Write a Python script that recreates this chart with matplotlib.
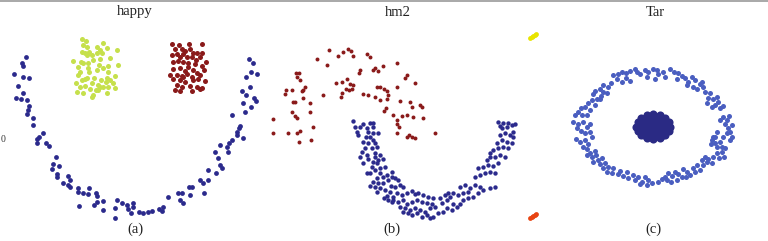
import matplotlib
matplotlib.use("Agg")
import matplotlib.pyplot as plt
from matplotlib.lines import Line2D

# point positions; each panel uses its own units
# (3 units per screen pixel inside the panel window)

# --- (a) happy ---
happy_smile = [
    (78, 170), (65, 190), (70, 198), (42, 222), (68, 232), (88, 235), (55, 258), (68, 278),
    (48, 295), (62, 298), (80, 300), (88, 318), (85, 330), (80, 342), (100, 355), (98, 375),
    (128, 400), (118, 410), (110, 418), (112, 428), (138, 430), (148, 438), (168, 472),
    (160, 492), (178, 497), (155, 508), (170, 522), (170, 530), (205, 527), (210, 540),
    (188, 550), (205, 555), (210, 562), (235, 565), (235, 575), (250, 578), (268, 565),
    (265, 582), (288, 578), (292, 588), (308, 602), (292, 605), (282, 615), (238, 618),
    (310, 630), (345, 625), (352, 600), (365, 608), (380, 615), (385, 628), (400, 610),
    (400, 620), (392, 638), (418, 636), (430, 638), (445, 636), (455, 632), (478, 628),
    (488, 622), (485, 632), (505, 590), (535, 578), (540, 600), (548, 608), (568, 562),
    (575, 562), (570, 585), (545, 578), (600, 540), (608, 548), (625, 540), (612, 580),
    (625, 510), (648, 518), (665, 505), (660, 495), (655, 475), (645, 455), (660, 435),
    (680, 442), (685, 455), (688, 428), (695, 420), (712, 405), (718, 385), (720, 378),
    (730, 415), (712, 395), (695, 345), (735, 335), (730, 310), (752, 320), (762, 295),
    (768, 302), (738, 285), (725, 272), (750, 260), (738, 230), (752, 215), (770, 222),
    (760, 190), (748, 178), (345, 655),
]
happy_green = [
    (245, 118), (258, 122), (250, 135), (262, 140), (245, 155), (255, 160), (268, 155),
    (292, 140), (310, 128), (320, 145), (300, 150), (290, 160), (305, 160), (350, 150),
    (262, 165), (275, 165), (220, 182), (242, 185), (250, 190), (280, 180), (300, 178),
    (330, 175), (355, 195), (298, 195), (310, 205), (240, 215), (235, 225), (268, 215),
    (290, 210), (325, 215), (345, 228), (320, 235), (262, 235), (245, 240), (255, 238),
    (282, 235), (302, 240), (318, 245), (330, 240), (228, 248), (240, 262), (255, 258),
    (275, 250), (295, 255), (310, 262), (325, 262), (345, 265), (232, 275), (250, 278),
    (270, 268), (288, 270), (300, 262), (322, 280), (278, 285), (275, 292), (295, 270),
    (338, 250), (263, 190), (235, 200), (325, 198), (265, 205),
]
happy_red = [
    (515, 132), (538, 135), (568, 132), (605, 132), (525, 148), (545, 148), (555, 152),
    (570, 148), (580, 158), (590, 160), (605, 160), (515, 165), (530, 162), (548, 162),
    (560, 170), (575, 170), (600, 170), (618, 185), (520, 185), (535, 182), (550, 185),
    (565, 188), (585, 192), (605, 198), (612, 210), (520, 208), (540, 205), (555, 212),
    (580, 210), (590, 218), (510, 225), (530, 225), (545, 228), (560, 222), (575, 230),
    (600, 225), (520, 238), (540, 240), (555, 245), (580, 240), (595, 238), (615, 242),
    (530, 255), (545, 260), (570, 258), (590, 262), (605, 265), (525, 270), (540, 272),
    (575, 272), (600, 268), (550, 232), (565, 200), (588, 180), (540, 170),
]

# --- (b) hm2 ---
hm2_red = [
    (208, 150), (248, 155), (265, 148), (272, 152), (280, 168), (235, 168), (170, 178),
    (200, 195), (322, 162), (330, 172), (345, 205), (340, 210), (355, 212), (370, 198),
    (410, 188), (300, 210), (298, 218), (108, 218), (118, 218), (110, 232), (120, 240),
    (260, 238), (245, 245), (228, 250), (270, 252), (280, 255), (268, 270), (258, 268),
    (275, 268), (440, 225), (435, 235), (465, 248), (78, 270), (95, 270), (125, 272),
    (135, 262), (130, 270), (190, 285), (245, 278), (242, 290), (310, 282), (325, 285),
    (350, 262), (360, 262), (372, 268), (380, 272), (410, 262), (345, 292), (360, 300),
    (382, 298), (105, 305), (100, 305), (130, 295), (150, 310), (420, 302), (450, 305),
    (480, 315), (485, 320), (455, 320), (378, 325), (372, 332), (95, 335), (105, 348),
    (112, 355), (150, 335), (400, 345), (425, 348), (440, 345), (458, 352), (490, 355),
    (410, 360), (412, 372), (418, 382), (38, 358), (160, 380), (120, 392), (112, 398),
    (85, 398), (38, 398), (412, 400), (448, 405), (455, 410), (465, 415), (440, 412),
    (525, 398), (118, 425), (152, 420), (75, 282), (385, 285),
]
hm2_blue = [
    (280, 362), (285, 380), (290, 395), (295, 405), (310, 372), (320, 385), (325, 395),
    (330, 370), (340, 368), (338, 380), (318, 410), (330, 412), (340, 420), (310, 425),
    (325, 430), (345, 430), (315, 445), (335, 445), (300, 470), (320, 465), (345, 460),
    (360, 465), (325, 478), (340, 485), (355, 480), (368, 478), (310, 490), (335, 500),
    (345, 510), (360, 505), (375, 500), (360, 520), (380, 525), (395, 530), (405, 535),
    (415, 540), (385, 540), (340, 545), (355, 548), (370, 550), (345, 560), (360, 565),
    (375, 570), (392, 558), (405, 560), (420, 555), (430, 560), (390, 575), (410, 580),
    (380, 588), (400, 590), (425, 585), (440, 578), (455, 572), (465, 582), (475, 580),
    (490, 585), (505, 590), (520, 595), (395, 605), (415, 605), (430, 600), (440, 612),
    (455, 605), (470, 600), (485, 605), (500, 610), (515, 612), (420, 620), (435, 625),
    (450, 630), (465, 625), (480, 630), (495, 635), (510, 625), (525, 620), (545, 610),
    (560, 600), (570, 590), (540, 595), (555, 585), (565, 578), (580, 580), (595, 585),
    (610, 580), (625, 575), (600, 560), (615, 555), (630, 565), (645, 555), (660, 560),
    (670, 570), (690, 565), (705, 560), (645, 530), (660, 525), (675, 520), (690, 515),
    (705, 520), (655, 505), (670, 500), (685, 495), (700, 498), (715, 490), (680, 480),
    (690, 470), (705, 472), (720, 465), (735, 470), (700, 450), (715, 445), (730, 440),
    (745, 445), (690, 460), (710, 430), (725, 420), (740, 425), (755, 430), (720, 405),
    (735, 400), (750, 405), (760, 410), (725, 385), (740, 380), (755, 375), (765, 372),
    (715, 365), (730, 370), (745, 368), (720, 378), (760, 395), (535, 640), (550, 635),
    (560, 625), (575, 630), (590, 620), (600, 612), (610, 600), (625, 595), (640, 590),
    (655, 580), (510, 655), (520, 650), (580, 612), (470, 640), (455, 645), (445, 640),
    (430, 635), (500, 645), (485, 650), (400, 600), (385, 600), (372, 595), (350, 575),
    (330, 558), (350, 535), (370, 530), (395, 515), (320, 520), (330, 520), (350, 490),
    (305, 455), (350, 440), (340, 400), (300, 380), (355, 400), (345, 470),
]

# --- (c) Tar ---
tar_yellow = [(30, 115), (35, 112), (40, 108), (45, 105), (48, 103)]
tar_orange = [(30, 655), (35, 652), (40, 648), (45, 645), (48, 643)]
tar_ring = [
    (280, 225), (295, 222), (305, 215), (318, 220), (330, 212), (345, 208), (352, 215),
    (360, 222), (375, 210), (385, 215), (398, 208), (410, 210), (415, 222), (430, 215),
    (435, 232), (450, 208), (462, 215), (475, 220), (485, 228), (495, 235), (505, 245),
    (515, 232), (525, 240), (540, 252), (550, 262), (545, 245), (318, 235), (305, 245),
    (290, 238), (272, 248), (265, 262), (250, 255), (240, 268), (225, 272), (218, 282),
    (330, 242), (380, 232), (405, 238), (470, 238), (500, 255), (520, 262), (532, 268),
    (555, 275), (570, 280), (565, 295), (580, 298), (590, 290), (595, 305), (585, 315),
    (600, 325), (610, 318), (575, 320), (560, 310), (250, 275), (242, 288), (230, 298),
    (215, 300), (205, 310), (195, 322), (182, 325), (175, 335), (165, 345), (185, 345),
    (200, 345), (210, 330), (225, 315), (240, 298), (260, 280), (160, 365), (175, 372),
    (190, 365), (200, 380), (210, 372), (170, 385), (182, 392), (195, 400), (210, 395),
    (168, 418), (180, 425), (195, 420), (205, 432), (215, 412), (190, 440), (200, 448),
    (210, 460), (225, 452), (215, 470), (228, 465), (200, 465), (235, 480), (245, 475),
    (220, 485), (240, 492), (255, 490), (250, 505), (265, 500), (260, 515), (275, 518),
    (280, 505), (295, 522), (300, 512), (310, 528), (320, 515), (325, 535), (340, 525),
    (345, 540), (355, 532), (365, 545), (375, 530), (385, 540), (395, 548), (380, 555),
    (360, 552), (415, 545), (425, 538), (435, 530), (445, 520), (455, 528), (465, 515),
    (475, 522), (485, 530), (490, 508), (500, 515), (510, 525), (520, 505), (530, 495),
    (540, 510), (550, 495), (560, 485), (565, 478), (575, 490), (580, 470), (590, 460),
    (598, 475), (605, 455), (615, 445), (590, 440), (600, 425), (585, 428), (575, 420),
    (610, 410), (620, 400), (630, 395), (635, 410), (625, 385), (635, 375), (620, 360),
    (610, 350), (628, 348), (600, 360), (615, 372), (590, 395), (580, 412), (572, 432),
    (585, 410), (605, 440), (452, 545), (440, 540), (470, 540), (498, 530), (525, 515),
    (545, 480), (555, 470), (612, 470), (630, 420),
]
# the dense blob in the middle of the ring (outline + filling)
tar_core = [
    (451, 380), (447, 394), (436, 406), (420, 414), (400, 417), (380, 414), (364, 406),
    (353, 394), (349, 380), (353, 366), (364, 354), (380, 346), (400, 343), (420, 346),
    (436, 354), (447, 366), (430, 380), (421, 394), (400, 400), (379, 394), (370, 380),
    (379, 366), (400, 360), (421, 366), (400, 380), (410, 372), (390, 388),
    (385, 372), (415, 388), (385, 388), (415, 372), (360, 380), (440, 380), (400, 352),
    (400, 408), (372, 356), (428, 356), (372, 404), (428, 404), (390, 352), (410, 352),
    (390, 408), (410, 408), (358, 370), (442, 370), (358, 390), (442, 390),
]

titles = ["happy", "hm2", "Tar"]
captions = ["(a)", "(b)", "(c)"]

W, H = 768, 241
fig = plt.figure(figsize=(W / 100, H / 100), dpi=100)
fig.patch.set_facecolor("white")


def panel(x0, width):
    ax = fig.add_axes([x0 / W, 0, width / W, 1])
    ax.set_xlim(0, width * 3)
    ax.set_ylim(H * 3, 0)
    ax.axis("off")
    ax.patch.set_alpha(0)
    return ax


def dots(ax, pts, color, s):
    xs = [p[0] for p in pts]
    ys = [p[1] for p in pts]
    ax.scatter(xs, ys, s=s, c=color, linewidths=0)


ax_a = panel(0, 270)
dots(ax_a, happy_smile, "#2b2a8c", 12)
dots(ax_a, happy_green, "#c6e04c", 13)
dots(ax_a, happy_red, "#8a1a1a", 13)

ax_b = panel(260, 270)
dots(ax_b, hm2_red, "#8a1a1a", 8)
dots(ax_b, hm2_blue, "#2b2a8c", 10)

ax_c = panel(520, 248)
dots(ax_c, tar_ring, "#4a5ec0", 13)
dots(ax_c, tar_core, "#2a2a84", 34)
dots(ax_c, tar_yellow, "#e8e400", 12)
dots(ax_c, tar_orange, "#e84412", 12)

# panel titles and captions (pixel positions)
for t, c, xc, xcap in zip(titles, captions, [135, 398, 655], [135, 392, 653]):
    fig.text(xc / W, 1 - 12 / H, t, ha="center", va="center",
             family="Liberation Serif", fontsize=10.5, color="#222222")
    fig.text(xcap / W, 1 - 229 / H, c, ha="center", va="center",
             family="Liberation Serif", fontsize=10.5, color="#222222")

# leftover tick label at the left edge
fig.text(0.5 / W, 1 - 140 / H, "0", ha="left", va="center",
         family="Liberation Serif", fontsize=7, color="#333333")

# thin grey rule along the top
fig.add_artist(Line2D([0, 1], [1 - 0.6 / H, 1 - 0.6 / H], color="#999999", lw=1.2))

fig.savefig("out.png", dpi=100)
